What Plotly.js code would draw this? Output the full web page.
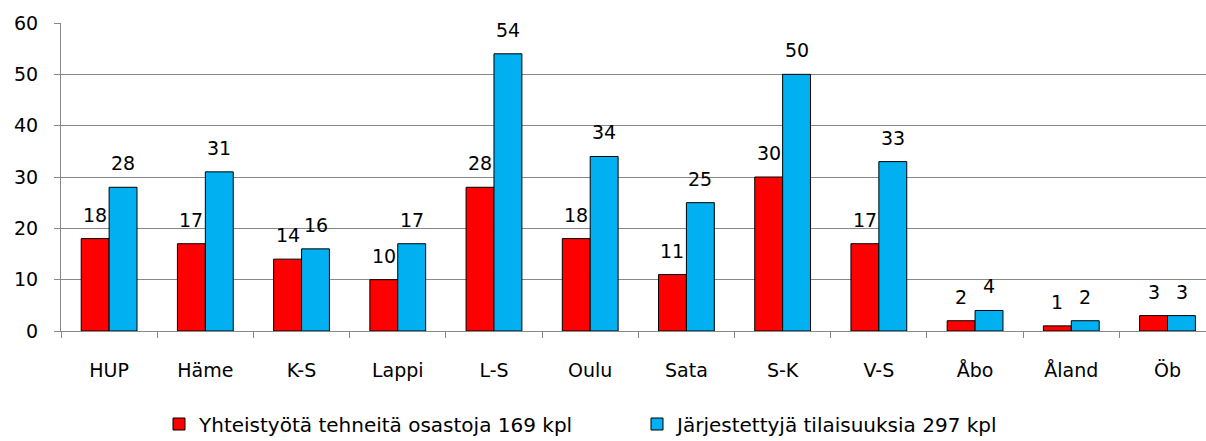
<!DOCTYPE html>
<html><head><meta charset="utf-8">
<script src="https://cdn.plot.ly/plotly-3.0.1.min.js"></script>
<style>html,body{margin:0;padding:0;background:#fff}</style>
</head><body>
<div id="chart" style="width:1206px;height:441px"></div>
<script>
const categories = ["HUP","Häme","K-S","Lappi","L-S","Oulu","Sata","S-K","V-S","Åbo","Åland","Öb"];
const yhteistyo = [18,17,14,10,28,18,11,30,17,2,1,3];
const tilaisuudet = [28,31,16,17,54,34,25,50,33,4,2,3];
const seriesNames = ["Yhteistyötä tehneitä osastoja 169 kpl","Järjestettyjä tilaisuuksia 297 kpl"];
const colors = ["#ff0000","#00b0f0"];

const font = "Verdana, 'DejaVu Sans', sans-serif";
const traces = [yhteistyo, tilaisuudet].map((vals,i)=>({
  type:"bar", x:categories, y:vals, name:seriesNames[i],
  marker:{color:colors[i], line:{color:"#000", width:1}},
  offsetgroup:String(i), hoverinfo:"skip"
}));

const annotations = [];
[yhteistyo, tilaisuudet].forEach((vals,i)=>{
  vals.forEach((v,j)=>{
    annotations.push({
      x:categories[j], y:v, xref:"x", yref:"y", text:String(v), showarrow:false,
      xshift: (i===0?-14:14), yanchor:"bottom", yshift:11,
      font:{family:font, size:19, color:"#000"}
    });
  });
});

const layout = {
  width:1206, height:441,
  margin:{l:61, r:0, t:23, b:110, autoexpand:false},
  paper_bgcolor:"#fff", plot_bgcolor:"#fff",
  barmode:"group", bargap:0.42, bargroupgap:0,
  showlegend:true,
  legend:{orientation:"h", xref:"container", yref:"container", x:159/1206, xanchor:"left",
    y:1-424/441, yanchor:"middle",
    font:{family:"'DejaVu Sans', sans-serif", size:20, color:"#000"},
    itemwidth:30, tracegroupgap:0, entrywidth:433, entrywidthmode:"pixels"},
  xaxis:{type:"category", showline:true, linecolor:"#888", linewidth:1,
    ticks:"outside", tickson:"boundaries", ticklen:6, tickcolor:"#888",
    ticklabelstandoff:22,
    tickfont:{family:font, size:19, color:"#000"}, showgrid:false, zeroline:false,
    range:[-0.5,11.4]},
  yaxis:{range:[0,60], dtick:10, showline:true, linecolor:"#888", linewidth:1,
    ticks:"outside", ticklen:6, tickcolor:"#888", showgrid:true, gridcolor:"#888", gridwidth:1,
    ticklabelstandoff:12,
    zeroline:false, tickfont:{family:font, size:19, color:"#000"}},
  annotations:annotations
};
Plotly.newPlot("chart", traces, layout, {displayModeBar:false, staticPlot:true});
</script>
</body></html>
